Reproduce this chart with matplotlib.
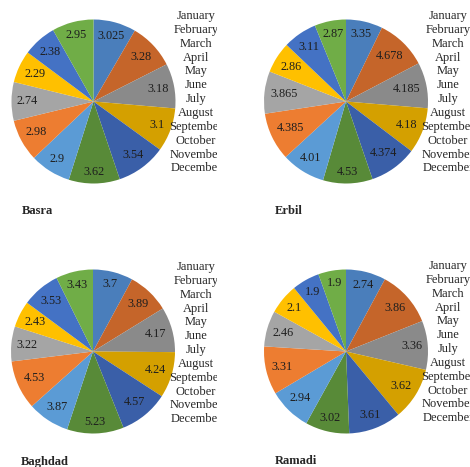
import numpy as np
import matplotlib
matplotlib.use("Agg")
from matplotlib import pyplot as plt

months = ["January", "February", "March", "April", "May", "June", "July",
          "August", "September", "October", "November", "December"]

basra = [3.025, 3.28, 3.18, 3.1, 3.54, 3.62, 2.9, 2.98, 2.74, 2.29, 2.38, 2.95]
erbil = [3.35, 4.678, 4.185, 4.18, 4.374, 4.53, 4.01, 4.385, 3.865, 2.86, 3.11, 2.87]
baghdad = [3.7, 3.89, 4.17, 4.24, 4.57, 5.23, 3.87, 4.53, 3.22, 2.43, 3.53, 3.43]
ramadi = [2.74, 3.86, 3.36, 3.62, 3.61, 3.02, 2.94, 3.31, 2.46, 2.1, 1.9, 1.9]

basra_txt = ["3.025", "3.28", "3.18", "3.1", "3.54", "3.62", "2.9", "2.98", "2.74", "2.29", "2.38", "2.95"]
erbil_txt = ["3.35", "4.678", "4.185", "4.18", "4.374", "4.53", "4.01", "4.385", "3.865", "2.86", "3.11", "2.87"]
baghdad_txt = ["3.7", "3.89", "4.17", "4.24", "4.57", "5.23", "3.87", "4.53", "3.22", "2.43", "3.53", "3.43"]
ramadi_txt = ["2.74", "3.86", "3.36", "3.62", "3.61", "3.02", "2.94", "3.31", "2.46", "2.1", "1.9", "1.9"]

colors = ["#4a7ebb", "#c5652a", "#8a8a8a", "#d4a000", "#3a5fa8", "#588a38",
          "#5b9bd5", "#ed7d31", "#a5a5a5", "#ffc000", "#4472c4", "#70ad47"]

plt.rcParams['font.family'] = ['Liberation Serif', 'DejaVu Serif']

W, H = 470, 467
fig = plt.figure(figsize=(W / 100, H / 100), dpi=100)
renderer = fig.canvas.get_renderer()

# (name, values, labels, pie centre px, legend centre x, legend top y, legend clip right, title pos)
panels = [
    ("Basra", basra, basra_txt, (93.5, 101.5), 196, 16, 217, (22, 211)),
    ("Erbil", erbil, erbil_txt, (346, 101.5), 448, 16, 470, (275, 211)),
    ("Baghdad", baghdad, baghdad_txt, (93, 351.5), 196, 267, 217, (21, 462)),
    ("Ramadi", ramadi, ramadi_txt, (346, 351.5), 448, 266, 470, (275, 461)),
]

R = 82
pad = 5
for name, vals, txt, (cx, cy), lx, ly, lclip, (tx, ty) in panels:
    ax = fig.add_axes([(cx - R) / W, 1 - (cy + R) / H, 2 * R / W, 2 * R / H])
    wedges, texts = ax.pie(vals, labels=txt, colors=colors, startangle=90,
                           counterclock=False, labeldistance=0.8,
                           wedgeprops=dict(linewidth=0),
                           textprops=dict(fontsize=8.8, color="#1e1e1e",
                                          ha="center", va="center"))
    ax.set_xlim(-1, 1)
    ax.set_ylim(-1, 1)
    ax.set_aspect("equal")

    # "inside end" placement: keep each label just inside the rim
    for w, t in zip(wedges, texts):
        t.set_ha("center")
        th = np.deg2rad((w.theta1 + w.theta2) / 2)
        bb = t.get_window_extent(renderer)
        ext = abs(np.cos(th)) * bb.width / 2 + abs(np.sin(th)) * bb.height / 2
        d = (R - pad - ext) / R
        t.set_position((d * np.cos(th), d * np.sin(th)))

    # legend column (text only, clipped like the original)
    lax = fig.add_axes([(lx - 30) / W, 1 - (ly + 160) / H, (lclip - lx + 30) / W, 170 / H])
    lax.set_xlim(lx - 30, lclip)
    lax.set_ylim(ly + 160, ly - 10)
    lax.axis("off")
    for i, m in enumerate(months):
        lax.text(lx, ly + i * 13.85, m, ha="center", va="center",
                 fontsize=9, color="#262626", clip_on=True)

    fig.text(tx / W, 1 - ty / H, name, ha="left", va="center",
             fontsize=9, fontweight="bold", color="#262626")

fig.savefig("out.png", dpi=100)
